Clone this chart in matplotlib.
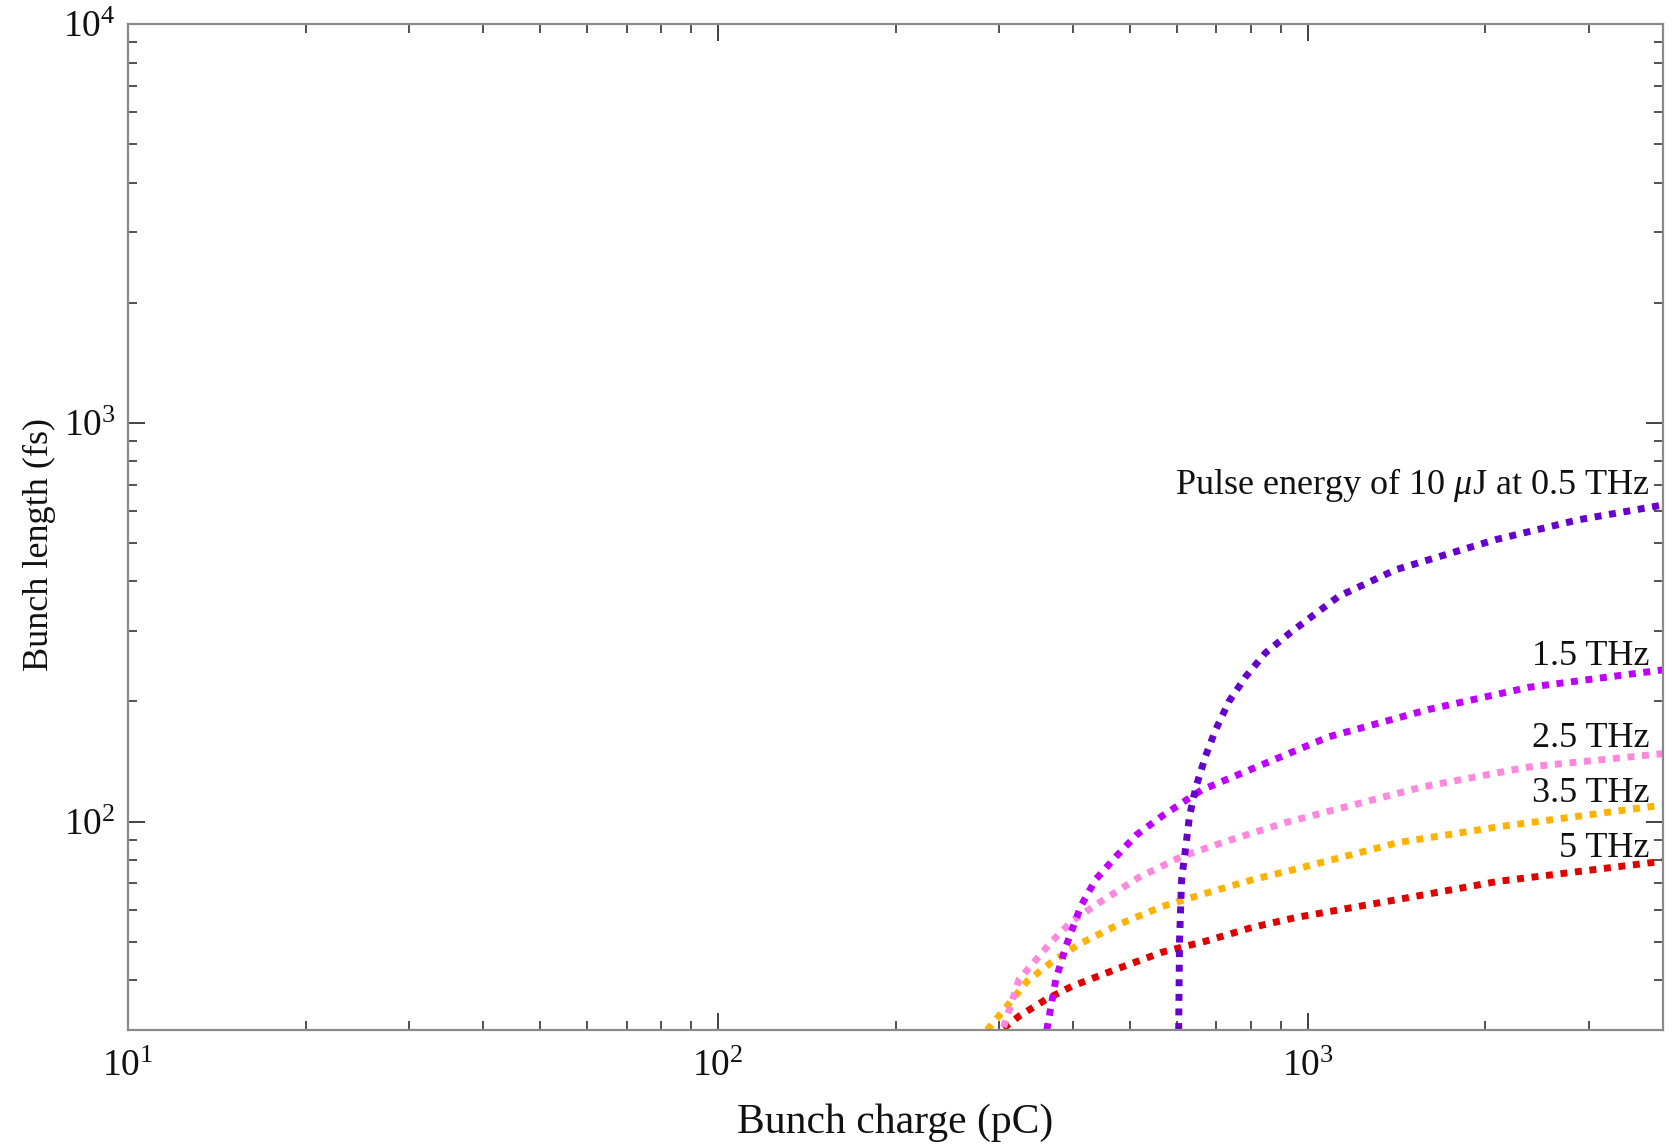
import numpy as np
import matplotlib
matplotlib.use("Agg")
import matplotlib.pyplot as plt
from matplotlib.ticker import LogLocator, NullFormatter

plt.rcParams['font.family'] = ['Liberation Serif', 'DejaVu Serif']
plt.rcParams['mathtext.fontset'] = 'custom'
plt.rcParams['mathtext.rm'] = 'Liberation Serif'
plt.rcParams['mathtext.it'] = 'Liberation Serif:italic'

# bunch charge (pC) / bunch length (fs)
q_05 = [604, 606, 611, 621, 630, 646, 671, 698, 735, 785, 848, 935, 1128, 1409, 2080, 2875, 4000]
t_05 = [30, 50, 71.6, 86.5, 103, 122, 146, 170, 200, 231, 265, 298, 367, 428, 509, 571, 622]

q_15 = [361, 374, 389, 412, 437, 473, 513, 565, 661, 1084, 1603, 2367, 4000]
t_15 = [30, 40.2, 48.6, 61.2, 71.6, 81.7, 92.7, 103, 120, 163, 191, 217, 240]

q_25 = [305, 324, 339, 367, 398, 443, 517, 611, 726, 917, 1560, 2366, 4000]
t_25 = [30.5, 40.2, 43.4, 49.8, 56.2, 62.6, 72.4, 81.7, 89.1, 99.4, 122, 137, 148]

q_35 = [286, 309, 334, 368, 409, 478, 566, 679, 810, 952, 1426, 2104, 4000]
t_35 = [30, 34.4, 39.7, 44.4, 49.2, 55.2, 61.2, 66.4, 71.6, 75.9, 88.6, 97, 110]

q_5 = [305, 324, 360, 398, 473, 566, 671, 803, 952, 1426, 2104, 4000]
t_5 = [30.3, 32.5, 35.8, 38.6, 42.6, 47, 50.1, 54.2, 57.4, 63.8, 70.8, 79.5]

labels = ['Pulse energy of 10 $\\mu$J at 0.5 THz', '1.5 THz', '2.5 THz', '3.5 THz', '5 THz']
label_y = [661, 247, 154, 112, 81.3]
colors = ['#6600CC', '#BF00FF', '#FF88DD', '#FFB300', '#E00000']

fig = plt.figure(figsize=(16.72, 11.44), dpi=100)
ax = fig.add_axes([128 / 1672, 1 - 1030 / 1144, 1535 / 1672, 1006 / 1144])

curves = [(q_05, t_05), (q_15, t_15), (q_25, t_25), (q_35, t_35), (q_5, t_5)]
for (q, t), c in list(zip(curves, colors))[::-1]:
    ax.plot(q, t, color=c, lw=5, linestyle=(0, (1, 1.1)))

for lab, y in zip(labels, label_y):
    ax.text(3800, y, lab, ha='right', va='baseline', fontsize=26, color='#111111')

ax.set_xscale('log')
ax.set_yscale('log')
ax.set_xlim(10, 4000)
ax.set_ylim(30, 1e4)

ax.xaxis.set_major_locator(LogLocator(base=10, numticks=10))
ax.yaxis.set_major_locator(LogLocator(base=10, numticks=10))
ax.xaxis.set_minor_locator(LogLocator(base=10, subs=np.arange(2, 10), numticks=50))
ax.yaxis.set_minor_locator(LogLocator(base=10, subs=np.arange(2, 10), numticks=50))
ax.xaxis.set_minor_formatter(NullFormatter())
ax.yaxis.set_minor_formatter(NullFormatter())

ax.tick_params(which='both', direction='in', top=True, right=True, colors='#333333')
ax.tick_params(which='major', length=12, width=1.3, labelsize=27, labelcolor='#111111')
ax.tick_params(which='minor', length=6.5, width=1.2)
ax.tick_params(axis='x', which='major', pad=14)
ax.tick_params(axis='y', which='major', pad=9)

for s in ax.spines.values():
    s.set_color('#8a8a8a')
    s.set_linewidth(1.6)

ax.set_xlabel('Bunch charge (pC)', fontsize=30, color='#111111')
ax.set_ylabel('Bunch length (fs)', fontsize=26, color='#111111')
ax.xaxis.set_label_coords(0.5, -0.073)
ax.yaxis.set_label_coords(-0.047, 0.483)

fig.savefig('out.png', dpi=100)
